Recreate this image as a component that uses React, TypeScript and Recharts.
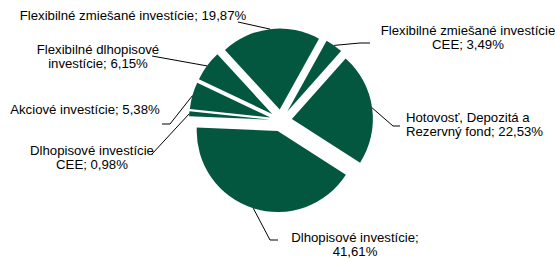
import React from "react";
import { PieChart, Pie, Cell, Sector } from "recharts";

// portfolio split, clockwise from top-right
const CATEGORIES = [
  "Flexibilné zmiešané investície CEE",
  "Hotovosť, Depozitá a Rezervný fond",
  "Dlhopisové investície",
  "Dlhopisové investície CEE",
  "Akciové investície",
  "Flexibilné dlhopisové investície",
  "Flexibilné zmiešané investície",
];
const SHARES = [3.49, 22.53, 41.61, 0.98, 5.38, 6.15, 19.87];

const data = CATEGORIES.map((name, i) => ({ name, value: SHARES[i] }));

const GREEN = "#03573e";
const EXPLODE = 11;
const RAD = Math.PI / 180;
const FONT = "'Liberation Sans', Arial, sans-serif";

// label placement: text anchor, line heights, words on first line, leader elbow points
const LABEL_LAYOUT = [
  { x: 468, y: 30, anchor: "middle", split: 3, pts: [[360, 43], [370, 43]] },
  { x: 406, y: 117, anchor: "start", split: 3, pts: [[393, 126], [400, 126]] },
  { x: 355, y: 237, anchor: "middle", split: 2, pts: [[270, 240], [278, 240]] },
  { x: 92, y: 150, anchor: "middle", split: 2, pts: [[152, 154]] },
  { x: 85, y: 109, anchor: "middle", split: 99, pts: [[170, 124], [162, 124]] },
  { x: 98, y: 49, anchor: "middle", split: 2, pts: [[152, 56]] },
  { x: 133, y: 15, anchor: "middle", split: 99, pts: [[238, 22]] },
];

const fmt = (v: number) => v.toFixed(2).replace(".", ",") + "%";

function ExplodedSector(props: any) {
  const { cx, cy, midAngle } = props;
  const dx = Math.cos(-midAngle * RAD) * EXPLODE;
  const dy = Math.sin(-midAngle * RAD) * EXPLODE;
  return (
    <Sector
      cx={cx + dx}
      cy={cy + dy}
      innerRadius={props.innerRadius}
      outerRadius={props.outerRadius}
      startAngle={props.startAngle}
      endAngle={props.endAngle}
      fill={GREEN}
      stroke="none"
    />
  );
}

function renderLabel(props: any) {
  const { cx, cy, midAngle, outerRadius, index } = props;
  const r = outerRadius + EXPLODE;
  const sx = cx + Math.cos(-midAngle * RAD) * r;
  const sy = cy + Math.sin(-midAngle * RAD) * r;
  const lay = LABEL_LAYOUT[index];
  const words = `${CATEGORIES[index]}; ${fmt(SHARES[index])}`.split(" ");
  const lines = [words.slice(0, lay.split).join(" ")];
  if (words.length > lay.split) lines.push(words.slice(lay.split).join(" "));
  const pts = [[sx, sy], ...lay.pts].map((p) => p.join(",")).join(" ");
  return (
    <g key={`lbl-${index}`}>
      <polyline points={pts} fill="none" stroke="#000" strokeWidth={1} />
      <text
        x={lay.x}
        y={lay.y}
        textAnchor={lay.anchor as any}
        dominantBaseline="central"
        fontFamily={FONT}
        fontSize={13.2}
        fill="#000"
      >
        {lines.map((t, i) => (
          <tspan key={i} x={lay.x} dy={i === 0 ? 0 : 14}>
            {t}
          </tspan>
        ))}
      </text>
    </g>
  );
}

export default function App() {
  return (
    <div style={{ position: "absolute", left: 0, top: 0, width: 555, height: 259, background: "#fff" }}>
      <PieChart width={555} height={259} margin={{ top: 0, right: 0, bottom: 0, left: 0 }}>
        <Pie
          data={data}
          dataKey="value"
          nameKey="name"
          cx={281}
          cy={120.5}
          outerRadius={81}
          startAngle={61}
          endAngle={-299}
          stroke="none"
          shape={ExplodedSector}
          activeShape={ExplodedSector}
          inactiveShape={ExplodedSector}
          label={renderLabel}
          labelLine={false}
          isAnimationActive={false}
        >
          {data.map((d) => (
            <Cell key={d.name} fill={GREEN} />
          ))}
        </Pie>
      </PieChart>
    </div>
  );
}
